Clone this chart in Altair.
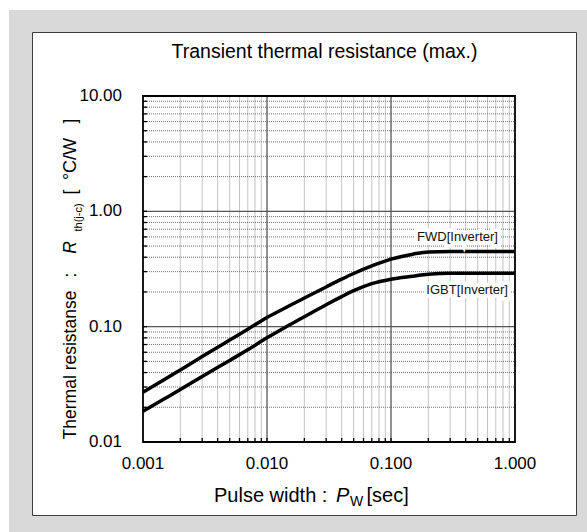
import altair as alt
import pandas as pd

# ---------------- data ----------------
pulse_width = [0.001, 0.0015, 0.002, 0.003, 0.005, 0.007, 0.01, 0.015, 0.02, 0.03,
               0.04, 0.05, 0.07, 0.1, 0.15, 0.2, 0.3, 0.5, 1.0]
fwd_rth = [0.027, 0.035, 0.0422, 0.055, 0.0765, 0.095, 0.12, 0.151, 0.177, 0.221,
           0.258, 0.289, 0.336, 0.385, 0.425, 0.445, 0.448, 0.448, 0.448]
igbt_rth = [0.0185, 0.0238, 0.0285, 0.037, 0.051, 0.063, 0.080, 0.103, 0.122, 0.155,
            0.182, 0.205, 0.236, 0.258, 0.274, 0.285, 0.290, 0.290, 0.290]
series_names = ["FWD[Inverter]", "IGBT[Inverter]"]
label_pw = [0.729, 0.878]
label_rth = [0.600, 0.208]

x_tick_values = [0.001, 0.01, 0.1, 1.0]
x_tick_labels = ["0.001", "0.010", "0.100", "1.000"]
y_tick_values = [0.01, 0.1, 1.0, 10.0]
y_tick_labels = ["0.01", "0.10", "1.00", "10.00"]
grid_multipliers = [2, 3, 4, 5, 6, 7, 8, 9]

# ---------------- layout ----------------
W, H = 372, 346
FONT = "Liberation Sans"

xs = alt.Scale(type="log", domain=[x_tick_values[0], x_tick_values[-1]], nice=False)
ys = alt.Scale(type="log", domain=[y_tick_values[0], y_tick_values[-1]], nice=False)

n = len(pulse_width)
curves = pd.DataFrame({
    "pw": pulse_width * 2,
    "rth": fwd_rth + igbt_rth,
    "series": [series_names[0]] * n + [series_names[1]] * n,
})
labels = pd.DataFrame({"name": series_names, "pw": label_pw, "rth": label_rth})
xlab = pd.DataFrame({"v": x_tick_values, "t": x_tick_labels})
ylab = pd.DataFrame({"v": y_tick_values, "t": y_tick_labels})

minor_x = [round(d * m, 6) for d in x_tick_values[:-1] for m in grid_multipliers]
minor_y = [round(d * m, 6) for d in y_tick_values[:-1] for m in grid_multipliers]
major_x = x_tick_values[1:-1]
major_y = y_tick_values[1:-1]
all_x_ticks = minor_x + major_x
all_y_ticks = minor_y + major_y

one = pd.DataFrame({"k": [0]})


def X(field):
    return alt.X(field, type="quantitative", scale=xs, axis=None)


def Y(field):
    return alt.Y(field, type="quantitative", scale=ys, axis=None)


bg = alt.Chart(one).mark_rect(fill="#d9d9d9").encode(
    x=alt.value(-134), x2=alt.value(444), y=alt.value(-86), y2=alt.value(436))
panel = alt.Chart(one).mark_rect(fill="white", stroke="#3c3c3c", strokeWidth=1).encode(
    x=alt.value(-110.5), x2=alt.value(433.5), y=alt.value(-63.5), y2=alt.value(419.5))

v_minor = alt.Chart(pd.DataFrame({"v": minor_x})).mark_rule(
    color="#c4c4c4", strokeWidth=1).encode(x=X("v"), y=alt.value(0), y2=alt.value(H))
h_minor = alt.Chart(pd.DataFrame({"v": minor_y})).mark_rule(
    color="#707070", strokeWidth=1, strokeDash=[1, 1]).encode(
    y=Y("v"), x=alt.value(0), x2=alt.value(W))
v_major = alt.Chart(pd.DataFrame({"v": major_x})).mark_rule(
    color="#555555", strokeWidth=1.3).encode(x=X("v"), y=alt.value(0), y2=alt.value(H))
h_major = alt.Chart(pd.DataFrame({"v": major_y})).mark_rule(
    color="#555555", strokeWidth=1.3).encode(y=Y("v"), x=alt.value(0), x2=alt.value(W))

x_ticks = alt.Chart(pd.DataFrame({"v": all_x_ticks})).mark_rule(
    color="black", strokeWidth=1.3).encode(x=X("v"), y=alt.value(H - 4), y2=alt.value(H))
y_ticks = alt.Chart(pd.DataFrame({"v": all_y_ticks})).mark_rule(
    color="black", strokeWidth=1.3).encode(y=Y("v"), x=alt.value(0), x2=alt.value(4))

x_tick_text = alt.Chart(xlab).mark_text(
    font=FONT, fontSize=17, align="center", baseline="alphabetic", color="black").encode(
    x=X("v"), y=alt.value(H + 27), text="t:N")
y_tick_text = alt.Chart(ylab).mark_text(
    font=FONT, fontSize=17, align="right", baseline="middle", color="black").encode(
    y=Y("v"), x=alt.value(-21), text="t:N")

lines = alt.Chart(curves).mark_line(
    color="black", strokeWidth=3.5, interpolate="monotone").encode(
    x=X("pw"), y=Y("rth"), detail="series:N")

halo = alt.Chart(labels).mark_text(
    align="right", baseline="middle", font=FONT, fontSize=13,
    stroke="white", strokeWidth=7, fill="white").encode(
    x=X("pw"), y=Y("rth"), text="name:N")
label_text = alt.Chart(labels).mark_text(
    align="right", baseline="middle", font=FONT, fontSize=13, color="#111111").encode(
    x=X("pw"), y=Y("rth"), text="name:N")

frame = alt.Chart(one).mark_rect(fillOpacity=0, stroke="black", strokeWidth=1.8).encode(
    x=alt.value(0), x2=alt.value(W), y=alt.value(0), y2=alt.value(H))


def txt(s, x, y, size, angle=0, align="left", style="normal"):
    return alt.Chart(one).mark_text(
        text=s, font=FONT, fontSize=size, fontStyle=style, align=align,
        baseline="alphabetic", angle=angle, color="black").encode(
        x=alt.value(x), y=alt.value(y))


titles = [
    txt("Transient thermal resistance (max.)", 181.5, -38, 19.5, align="center"),
    # x axis title
    txt("Pulse width :", 71, 406, 20),
    txt("P", 193, 406, 20, style="italic"),
    txt("W", 207, 410, 14),
    txt("[sec]", 223.5, 406, 20),
    # y axis title (rotated)
    txt("Thermal resistanse", -67, 269, 17.5, angle=270, align="center"),
    txt(":", -67, 179, 17.5, angle=270, align="center"),
    txt("R", -67, 151.5, 17.5, angle=270, align="center", style="italic"),
    txt("th(j-c)", -61, 121.5, 11, angle=270, align="center"),
    txt("[", -67, 96, 17.5, angle=270, align="center"),
    txt("°C/W", -67, 63, 18, angle=270, align="center"),
    txt("]", -67, 25, 17.5, angle=270, align="center"),
]

chart = alt.layer(
    bg, panel, v_minor, h_minor, v_major, h_major, x_ticks, y_ticks,
    lines, halo, label_text, frame, x_tick_text, y_tick_text, *titles
).properties(
    width=W, height=H,
    padding={"left": 143, "top": 96, "right": 72, "bottom": 90},
    autosize=alt.AutoSizeParams(type="none"),
    background="white",
).configure_view(stroke="transparent")

chart.save("out.html", embed_options={"renderer": "svg", "actions": False})
